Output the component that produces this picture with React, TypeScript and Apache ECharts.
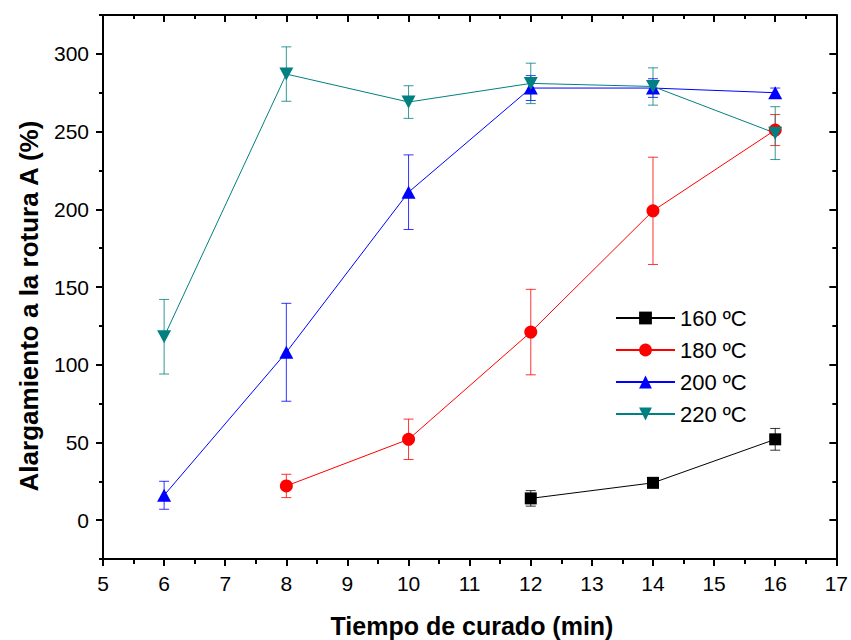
import React, { useEffect, useRef } from "react";
import * as echarts from "echarts";

const FONT = "'Liberation Sans', Arial, sans-serif";

const seriesNames = ["160 ºC", "180 ºC", "200 ºC", "220 ºC"];
const seriesColors = ["#000000", "#ff0000", "#0000ff", "#008080"];

const x160 = [12, 14, 16];
const y160 = [14, 24, 52];
const e160 = [5, 3, 7];

const x180 = [8, 10, 12, 14, 16];
const y180 = [22, 52, 121, 199, 251];
const e180 = [7.5, 13, 27.5, 34.5, 10];

const x200 = [6, 8, 10, 12, 14, 16];
const y200 = [16, 108, 211, 278, 278, 275];
const e200 = [9, 31.5, 24, 8, 6, 3];

const x220 = [6, 8, 10, 12, 14, 16];
const y220 = [118, 287, 269, 281, 279, 249];
const e220 = [24, 17.5, 10.5, 13, 12, 17];

const yCategories = [
  "-25", "0", "25", "50", "75", "100", "125", "150", "175",
  "200", "225", "250", "275", "300", "325",
];

const xTitle = "Tiempo de curado (min)";
const yTitle = "Alargamiento a la rotura A (%)";

const isMajor = (_i: number, v: string) => Number(v) % 50 === 0;

export default function App() {
  const ref = useRef<HTMLDivElement>(null);
  useEffect(() => {
    document.body.style.margin = "0";
    if (!ref.current) return;
    const chart = echarts.init(ref.current, undefined, { renderer: "svg" });

    const groups = [
      { x: x160, y: y160, e: e160, symbol: "rect", size: 12, rotate: 0 },
      { x: x180, y: y180, e: e180, symbol: "circle", size: 13, rotate: 0 },
      { x: x200, y: y200, e: e200, symbol: "triangle", size: [14, 13], rotate: 0 },
      { x: x220, y: y220, e: e220, symbol: "triangle", size: [14, 13], rotate: 180 },
    ];

    const series: any[] = [];
    groups.forEach((g, i) => {
      const color = seriesColors[i];
      series.push({
        name: seriesNames[i] + " error",
        type: "custom",
        xAxisIndex: 0,
        yAxisIndex: 0,
        encode: { x: 0, y: 1 },
        data: g.x.map((xv, k) => [xv, g.y[k], g.e[k]]),
        renderItem: (_p: any, api: any) => {
          const xv = api.value(0);
          const yv = api.value(1);
          const ev = api.value(2);
          const top = api.coord([xv, yv + ev]);
          const bot = api.coord([xv, yv - ev]);
          const style = { stroke: color, lineWidth: 1, fill: "none", opacity: 0.8 };
          return {
            type: "group",
            children: [
              { type: "line", shape: { x1: top[0], y1: top[1], x2: bot[0], y2: bot[1] }, style },
              { type: "line", shape: { x1: top[0] - 5, y1: top[1], x2: top[0] + 5, y2: top[1] }, style },
              { type: "line", shape: { x1: bot[0] - 5, y1: bot[1], x2: bot[0] + 5, y2: bot[1] }, style },
            ],
          };
        },
      });
      series.push({
        name: seriesNames[i],
        type: "line",
        xAxisIndex: 0,
        yAxisIndex: 0,
        data: g.x.map((xv, k) => [xv, g.y[k]]),
        symbol: g.symbol,
        symbolSize: g.size,
        symbolRotate: g.rotate,
        color,
        lineStyle: { color, width: 1 },
        itemStyle: { color },
      });
    });

    const axisLine = { show: true, onZero: false, lineStyle: { color: "#000", width: 2 } };

    chart.setOption({
      animation: false,
      textStyle: { fontFamily: FONT },
      grid: { left: 103, right: 13, top: 15, bottom: 81, containLabel: false },
      legend: {
        data: seriesNames,
        orient: "vertical",
        left: 615,
        top: 307,
        padding: 0,
        itemWidth: 59,
        itemHeight: 16,
        itemGap: 10,
        textStyle: { fontSize: 22, lineHeight: 22, color: "#000", fontFamily: FONT },
        selectedMode: false,
      },
      xAxis: [
        {
          type: "value",
          position: "bottom",
          min: 5,
          max: 17,
          interval: 1,
          axisLine,
          axisTick: { show: true, inside: false, length: 7, lineStyle: { color: "#000", width: 2 } },
          minorTick: { show: true, splitNumber: 2, length: 5, lineStyle: { color: "#000", width: 2 } },
          axisLabel: { fontSize: 21, color: "#000", margin: 14, fontFamily: FONT },
          splitLine: { show: false },
        },
        {
          type: "value",
          position: "top",
          min: 5,
          max: 17,
          interval: 1,
          axisLine,
          axisTick: { show: true, inside: true, length: 7, lineStyle: { color: "#000", width: 2 } },
          minorTick: { show: true, splitNumber: 2, length: 4, lineStyle: { color: "#000", width: 2 } },
          axisLabel: { show: false },
          splitLine: { show: false },
        },
      ],
      yAxis: [
        {
          type: "value",
          position: "left",
          min: -25,
          max: 325,
          interval: 25,
          axisLine,
          axisTick: { show: true, inside: false, length: 4, lineStyle: { color: "#000", width: 2 } },
          axisLabel: { show: false },
          splitLine: { show: false },
        },
        {
          type: "category",
          position: "left",
          data: yCategories,
          boundaryGap: false,
          axisLine: { show: false, onZero: false },
          axisTick: { show: true, inside: false, length: 7, interval: isMajor, lineStyle: { color: "#000", width: 2 } },
          axisLabel: { show: true, interval: isMajor, fontSize: 21, color: "#000", margin: 14, fontFamily: FONT },
          splitLine: { show: false },
        },
        {
          type: "value",
          position: "right",
          min: -25,
          max: 325,
          interval: 25,
          axisLine,
          axisTick: { show: true, inside: true, length: 4, lineStyle: { color: "#000", width: 2 } },
          axisLabel: { show: false },
          splitLine: { show: false },
        },
        {
          type: "category",
          position: "right",
          data: yCategories,
          boundaryGap: false,
          axisLine: { show: false, onZero: false },
          axisTick: { show: true, inside: true, length: 7, interval: isMajor, lineStyle: { color: "#000", width: 2 } },
          axisLabel: { show: false },
          splitLine: { show: false },
        },
      ],
      graphic: [
        {
          type: "text",
          x: 472,
          y: 626,
          style: {
            text: xTitle,
            font: `bold 25px ${FONT}`,
            fill: "#000",
            textAlign: "center",
            textVerticalAlign: "middle",
          },
        },
        {
          type: "text",
          x: 29,
          y: 306,
          rotation: Math.PI / 2,
          style: {
            text: yTitle,
            font: `bold 26px ${FONT}`,
            fill: "#000",
            textAlign: "center",
            textVerticalAlign: "middle",
          },
        },
      ],
      series,
    });

    return () => chart.dispose();
  }, []);

  return (
    <div
      ref={ref}
      style={{ position: "absolute", left: 0, top: 0, width: 851, height: 640 }}
    />
  );
}
